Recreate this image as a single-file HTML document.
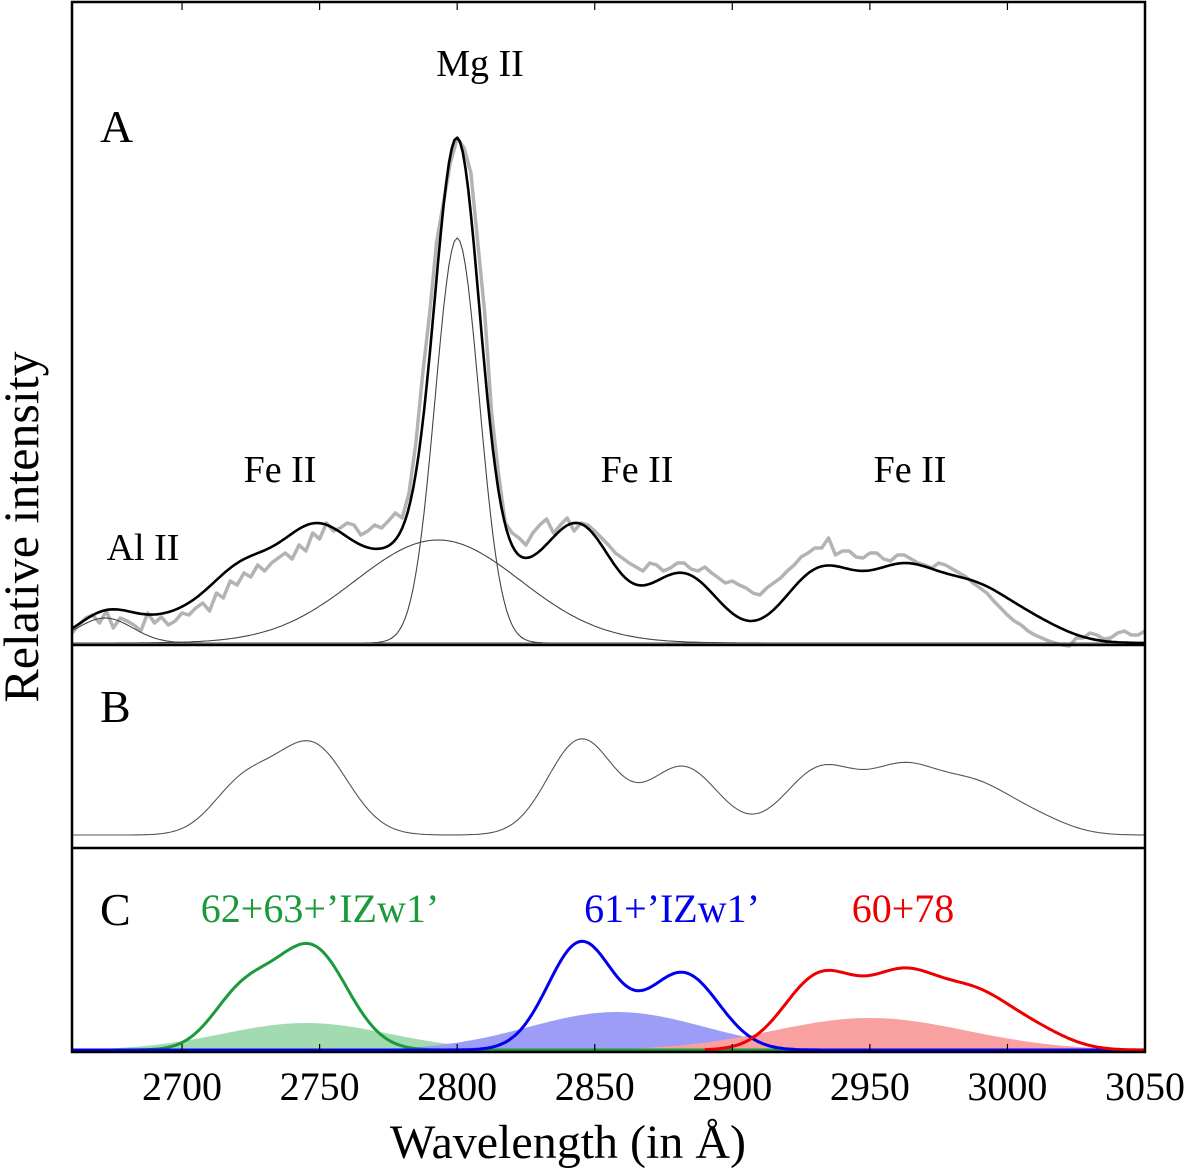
<!DOCTYPE html>
<html><head><meta charset="utf-8"><style>
html,body{margin:0;padding:0;background:#fff;}
svg{display:block;font-family:"Liberation Serif",serif;}
</style></head><body>
<svg id="chart" width="1200" height="1168" viewBox="0 0 1200 1168" xmlns="http://www.w3.org/2000/svg" font-family="Liberation Serif, serif">
<defs><clipPath id="clipFrame"><rect x="72" y="2" width="1073" height="1050"/></clipPath></defs>
<g id="fills" clip-path="url(#clipFrame)"></g><g id="lines" clip-path="url(#clipFrame)"></g>
<rect x="72" y="2" width="1073" height="1050" fill="none" stroke="#000" stroke-width="2.5"/>
<line x1="72" y1="645" x2="1145" y2="645" stroke="#000" stroke-width="2.5"/>
<line x1="72" y1="848" x2="1145" y2="848" stroke="#000" stroke-width="2.5"/>
<g id="ticks"></g>
<text x="100" y="142" font-size="46">A</text>
<text x="100" y="722" font-size="46">B</text>
<text x="100" y="925" font-size="46">C</text>
<text x="480" y="76" font-size="38" text-anchor="middle">Mg II</text>
<text x="280" y="482" font-size="38" text-anchor="middle">Fe II</text>
<text x="637" y="482" font-size="38" text-anchor="middle">Fe II</text>
<text x="910" y="482" font-size="38" text-anchor="middle">Fe II</text>
<text x="143" y="560" font-size="38" text-anchor="middle">Al II</text>
<text x="320" y="922" font-size="40" text-anchor="middle" fill="#1a9a3a">62+63+’IZw1’</text>
<text x="672" y="922" font-size="40" text-anchor="middle" fill="#0000ee">61+’IZw1’</text>
<text x="903" y="922" font-size="40" text-anchor="middle" fill="#ee0000">60+78</text>
<text transform="translate(38,527) rotate(-90)" font-size="50" text-anchor="middle">Relative intensity</text>
<text x="568" y="1158" font-size="48" text-anchor="middle">Wavelength (in Å)</text>
</svg>
<script>
// ---- data ----
const xTicks = [2700,2750,2800,2850,2900,2950,3000,3050];
// Fe II template gaussian groups (center Å, amplitude px in panel B, sigma Å)
const greenCenters = [2722,2747];
const greenAmps = [48,90];
const greenSigmas = [11,13];
const blueCenters = [2845,2882];
const blueAmps = [95,68];
const blueSigmas = [12,13];
const redCenters = [2932,2962,2988,3010];
const redAmps = [65,62,45,15];
const redSigmas = [13,13,13,12];
// panel A line components: [center, amp, sigma]
const mgNarrow = [2800,405,8];
const mgBroad = [2793,103,30];
const alII = [2672,25,10];
const extraComp = [2705,30,20];
const groupScaleA = [0.9,1.0,1.1];
// panel C broad filled components
const fillCenters = [2745,2858,2950];
const fillAmps = [27,38,32];
const fillSigmas = [30,32,35];
// observed spectrum (every 2.5 Å from 2660)
const obsStart = 2660;
const obsValues = [10,18,25,28,20,32,15,25,22,18,12,30,20,26,18,22,30,28,35,40,32,50,45,62,58,70,66,78,72,80,85,90,84,98,92,110,104,120,112,115,120,118,108,112,118,115,122,130,125,150,200,270,330,400,440,480,505,495,470,400,330,230,170,120,110,105,98,110,118,124,110,118,125,112,120,118,112,105,98,90,85,80,76,72,80,78,72,75,80,80,74,72,76,70,65,60,62,58,55,50,48,55,60,65,72,78,86,90,95,95,105,88,92,92,86,85,90,90,84,82,88,88,84,80,78,75,80,78,74,70,66,60,55,50,42,35,28,22,18,12,8,5,2,0,-2,-3,5,5,10,8,4,5,10,12,8,8,12,10];

// ---- scales ----
const X0=2660, X1=3050, PX0=72, PX1=1145;
const xs = w => PX0 + (w-X0)*(PX1-PX0)/(X1-X0);
const baseA=643, baseB=835, baseC=1050, scaleC=1.13;
const g=(w,c,a,s)=>a*Math.exp(-((w-c)**2)/(2*s*s));
const grp=(w,C,A,S)=>C.reduce((t,c,i)=>t+g(w,c,A[i],S[i]),0);
const green=w=>grp(w,greenCenters,greenAmps,greenSigmas);
const blue=w=>grp(w,blueCenters,blueAmps,blueSigmas);
const red=w=>grp(w,redCenters,redAmps,redSigmas);
const tmpl=w=>green(w)+blue(w)+red(w);
const fitA=w=>groupScaleA[0]*green(w)+groupScaleA[1]*blue(w)+groupScaleA[2]*red(w)
  +g(w,...mgNarrow)+g(w,...mgBroad)+g(w,...alII)+g(w,...extraComp);
const NS='http://www.w3.org/2000/svg';
function path(f,base,from,to){let d='';for(let w=from;w<=to;w+=1){d+=(d?'L':'M')+xs(w).toFixed(1)+','+(base-f(w)).toFixed(1);}return d;}
function add(parent,name,d,stroke,sw,fill){const p=document.createElementNS(NS,'path');p.setAttribute('d',d);p.setAttribute('stroke',stroke);p.setAttribute('stroke-width',sw);p.setAttribute('fill',fill||'none');p.setAttribute('stroke-linejoin','round');


document.getElementById(parent).appendChild(p);}
// fills panel C
const fillColors=['#a3dbb0','#9d9cf7','#f9a0a0'];
const fillNames=['green-fill','blue-fill','red-fill'];
fillCenters.forEach((c,i)=>{add('fills',fillNames[i],path(w=>g(w,c,fillAmps[i],fillSigmas[i]),baseC,X0,X1)+'L'+PX1+','+baseC+'L'+PX0+','+baseC+'Z','none',0,fillColors[i]);});
// observed
let od='';obsValues.forEach((v,i)=>{const w=obsStart+2.5*i;if(w>X1)return;od+=(i?'L':'M')+xs(w).toFixed(1)+','+(baseA-v).toFixed(1);});
add('lines','observed-spectrum',od,'#b3b3b3',3.5);
add('lines','mgii-narrow-component',path(w=>g(w,...mgNarrow),baseA,X0,X1),'#444',1.1);
add('lines','mgii-broad-component',path(w=>g(w,...mgBroad),baseA,X0,X1),'#444',1.1);
add('lines','alii-component',path(w=>g(w,...alII),baseA,X0,X1),'#444',1.1);
add('lines','total-fit',path(fitA,baseA,X0,X1),'#000',2.6);
add('lines','feii-template',path(tmpl,baseB,X0,X1),'#555',1.1);
add('lines','green-template',path(w=>scaleC*green(w),baseC,X0,X1),'#1a9a3a',3);
add('lines','blue-template',path(w=>scaleC*blue(w),baseC,X0,X1),'#0000ee',3);
add('lines','red-template',path(w=>scaleC*red(w),baseC,2890,X1),'#ee0000',3);
// ticks
const tg=document.getElementById('ticks');
xTicks.forEach(t=>{
 const x=xs(t);
 [[2,10],[1052,1044]].forEach(([a,b])=>{const l=document.createElementNS(NS,'line');l.setAttribute('x1',x);l.setAttribute('x2',x);l.setAttribute('y1',a);l.setAttribute('y2',b);l.setAttribute('stroke','#000');l.setAttribute('stroke-width','1.2');
 
 
 tg.appendChild(l);});
 const tx=document.createElementNS(NS,'text');tx.setAttribute('x',x);tx.setAttribute('y',1100);tx.setAttribute('font-size','40');tx.setAttribute('text-anchor','middle');tx.textContent=t;
 
 
 tg.appendChild(tx);
});
</script>
</body></html>
